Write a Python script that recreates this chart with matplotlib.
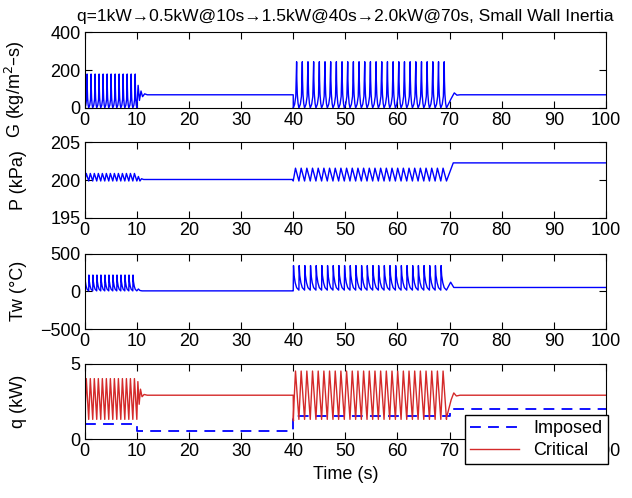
import matplotlib
matplotlib.use("Agg")
import matplotlib.pyplot as plt
from matplotlib.lines import Line2D

plt.rcParams['font.family'] = ['Liberation Sans', 'DejaVu Sans']
plt.rcParams['font.size'] = 13

# step changes in imposed heat load
t_steps = [0, 10, 40, 70, 100]
q_imposed = [1.0, 0.5, 1.5, 2.0, 2.0]

# oscillating bursts (0-10 s and 40-70 s)
burst_start = [0.0, 40.0]
burst_end = [10.0, 69.4]
burst_cycles = [13, 27]

# mass flux G
G_low = [0, 0]
G_high = [180, 245]
G_phase = [0.0, 0.25, 0.45, 0.55, 0.6, 0.64, 0.72, 0.85, 1.0]
G_level = [0.0, 0.08, 0.25, 0.7, 1.0, 0.6, 0.3, 0.1, 0.0]
G_ring1_t = [10.0, 10.25, 10.5, 10.8, 11.1, 11.5, 12.0, 40.0, 40.02]
G_ring1_v = [0, 120, 40, 90, 60, 75, 70, 70, 0]
G_ring2_t = [69.4, 70.3, 70.9, 71.4, 72.0, 100.0]
G_ring2_v = [0, 50, 80, 68, 70, 70]

# pressure P
P_low = [199.9, 199.9]
P_high = [200.9, 201.6]
P_phase = [0.0, 0.4, 1.0]
P_level = [0.0, 1.0, 0.0]
P_ring1_t = [10.0, 10.3, 10.6, 10.9, 11.3, 40.0]
P_ring1_v = [199.9, 200.5, 199.9, 200.2, 200.1, 200.1]
P_ring2_t = [69.4, 70.7, 100.0]
P_ring2_v = [199.9, 202.3, 202.3]

# wall temperature Tw
Tw_low = [5, 15]
Tw_high = [215, 340]
Tw_phase = [0.0, 0.05, 0.15, 0.35, 0.6, 1.0]
Tw_level = [0.0, 1.0, 0.6, 0.3, 0.1, 0.0]
Tw_ring1_t = [10.0, 10.3, 10.6, 11.0, 40.0]
Tw_ring1_v = [5, 30, 10, 5, 5]
Tw_ring2_t = [69.4, 70.2, 70.8, 100.0]
Tw_ring2_v = [15, 120, 50, 50]

# critical heat load
qc_low = [1.3, 1.3]
qc_high = [4.0, 4.5]
qc_phase = [0.0, 0.4, 1.0]
qc_level = [0.0, 1.0, 0.0]
qc_ring1_t = [10.0, 10.2, 10.45, 10.7, 11.0, 11.4, 12.0, 40.0, 40.05]
qc_ring1_v = [1.3, 3.8, 2.3, 3.3, 2.8, 2.95, 2.9, 2.9, 1.2]
qc_ring2_t = [69.4, 70.3, 70.8, 71.3, 72.0, 100.0]
qc_ring2_v = [1.4, 2.6, 3.05, 2.85, 2.9, 2.9]


def burst(i, low, high, phase, level):
    t0, t1, n = burst_start[i], burst_end[i], burst_cycles[i]
    period = (t1 - t0) / n
    ts, ys = [], []
    for k in range(n):
        for p, l in zip(phase, level):
            ts.append(t0 + (k + p) * period)
            ys.append(low[i] + l * (high[i] - low[i]))
    return ts, ys


def build(low, high, phase, level, r1t, r1v, r2t, r2v):
    a_t, a_v = burst(0, low, high, phase, level)
    b_t, b_v = burst(1, low, high, phase, level)
    return a_t + r1t + b_t + r2t, a_v + r1v + b_v + r2v


fig = plt.figure(figsize=(6.32, 4.98), dpi=100)
W, H = 632, 498
left, right = 84.7, 606
bottoms = [108, 218, 329, 439]
height = 75.5

blue = '#0000ff'
red = '#d42a2a'

series = [
    build(G_low, G_high, G_phase, G_level, G_ring1_t, G_ring1_v, G_ring2_t, G_ring2_v),
    build(P_low, P_high, P_phase, P_level, P_ring1_t, P_ring1_v, P_ring2_t, P_ring2_v),
    build(Tw_low, Tw_high, Tw_phase, Tw_level, Tw_ring1_t, Tw_ring1_v, Tw_ring2_t, Tw_ring2_v),
    build(qc_low, qc_high, qc_phase, qc_level, qc_ring1_t, qc_ring1_v, qc_ring2_t, qc_ring2_v),
]
ylabels = ['G (kg/m$^2$\u2013s)', 'P (kPa)', 'Tw (\u00b0C)', 'q (kW)']
ylabel_y = [0.25, 0.5, 0.5, 0.5]
ylims = [(0, 400), (195, 205), (-500, 500), (0, 5)]
yticks = [[0, 200, 400], [195, 200, 205], [-500, 0, 500], [0, 5]]

axes = []
for i in range(4):
    ax = fig.add_axes([left / W, 1 - bottoms[i] / H, (right - left) / W, height / H])
    t, v = series[i]
    if i < 3:
        ax.plot(t, v, color=blue, lw=1.0)
    else:
        ax.step(t_steps, q_imposed, where='post', color=blue, lw=1.3,
                dashes=(6, 4), label='Imposed')
        ax.plot(t, v, color=red, lw=1.0, label='Critical')
    ax.set_xlim(0, 100)
    ax.set_ylim(*ylims[i])
    ax.set_yticks(yticks[i])
    ax.set_xticks(range(0, 101, 10))
    ax.tick_params(direction='in', top=True, right=True, length=5, labelsize=13, pad=3)
    ax.set_ylabel(ylabels[i], fontsize=13)
    ax.yaxis.set_label_coords(-0.11, ylabel_y[i])
    axes.append(ax)

axes[0].set_title('q=1kW\u21920.5kW@10s\u21921.5kW@40s\u21922.0kW@70s, Small Wall Inertia',
                  fontsize=12.5, pad=8)
axes[3].set_xlabel('Time (s)', fontsize=13, labelpad=4)

handles = [Line2D([], [], color=blue, lw=1.3, dashes=(6, 4)),
           Line2D([], [], color=red, lw=1.0)]
leg = axes[3].legend(handles, ['Imposed', 'Critical'], loc='upper left',
                     bbox_to_anchor=(465 / W, 1 - 415 / H), bbox_transform=fig.transFigure,
                     fancybox=False, edgecolor='black', framealpha=1, fontsize=13,
                     handlelength=2.7, borderpad=0.3, labelspacing=0.25, borderaxespad=0)
leg.get_frame().set_linewidth(1.0)
leg.set_zorder(10)

fig.savefig('out.png', dpi=100)
